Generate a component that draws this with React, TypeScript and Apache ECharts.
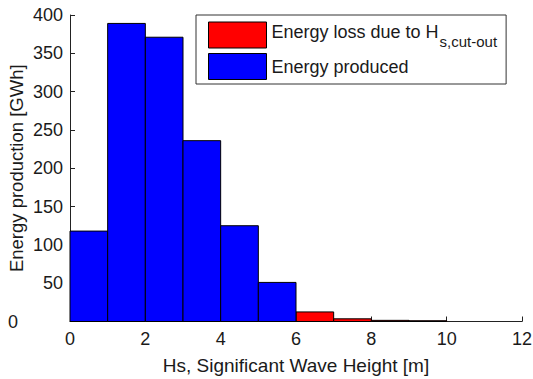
import React, { useEffect, useRef } from "react";
import * as echarts from "echarts";

// Histogram bins (lower edge of each 1 m wide Hs bin)
const producedBins = [0, 1, 2, 3, 4, 5];
const producedValues = [118, 389, 371, 236, 125, 51];
const lossBins = [6, 7, 8, 9];
const lossValues = [12.5, 3.5, 1.5, 1];
const binWidth = 1;

const xTicks = [0, 2, 4, 6, 8, 10, 12];
const yTicks = [0, 50, 100, 150, 200, 250, 300, 350, 400];

const FONT = "'Liberation Sans', Arial, sans-serif";
const TEXT = "#1a1a1a";

function histRender(color: string) {
  return (params: any, api: any) => {
    const x0 = api.value(0);
    const v = api.value(1);
    const p1 = api.coord([x0, v]);
    const p2 = api.coord([x0 + binWidth, 0]);
    return {
      type: "rect",
      shape: { x: p1[0], y: p1[1], width: p2[0] - p1[0], height: p2[1] - p1[1] },
      style: { fill: color, stroke: "#000", lineWidth: 1 },
    };
  };
}

export default function App() {
  const ref = useRef<HTMLDivElement>(null);

  useEffect(() => {
    if (!ref.current) return;
    const chart = echarts.init(ref.current, undefined, { renderer: "svg" });
    chart.setOption({
      animation: false,
      backgroundColor: "#fff",
      textStyle: { fontFamily: FONT },
      grid: {
        left: 70,
        right: 11,
        top: 15,
        bottom: 57.5,
        containLabel: false,
        outerBoundsMode: "none",
      },
      xAxis: {
        type: "value",
        min: xTicks[0],
        max: xTicks[xTicks.length - 1],
        interval: xTicks[1] - xTicks[0],
        name: "Hs, Significant Wave Height [m]",
        nameLocation: "middle",
        nameGap: 34,
        nameMoveOverlap: false,
        nameTextStyle: { fontSize: 19, color: TEXT, fontFamily: FONT },
        axisLine: { show: true, lineStyle: { color: "#222", width: 1 } },
        axisTick: { show: true, inside: true, length: 5, lineStyle: { color: "#222" } },
        axisLabel: { fontSize: 18, color: TEXT, margin: 8, fontFamily: FONT },
        splitLine: { show: false },
      },
      yAxis: {
        type: "value",
        min: yTicks[0],
        max: yTicks[yTicks.length - 1],
        interval: yTicks[1] - yTicks[0],
        name: "Energy production [GWh]",
        nameLocation: "middle",
        nameGap: 44,
        nameMoveOverlap: false,
        nameTextStyle: { fontSize: 18.5, color: TEXT, fontFamily: FONT, lineHeight: 20 },
        axisLine: { show: true, lineStyle: { color: "#222", width: 1 } },
        axisTick: { show: true, inside: true, length: 5, lineStyle: { color: "#222" } },
        axisLabel: {
          fontSize: 18,
          color: TEXT,
          margin: 7,
          fontFamily: FONT,
          formatter: (v: number) => (v === 0 ? "{z|0}" : String(v)),
          rich: { z: { fontSize: 18, color: TEXT, fontFamily: FONT, padding: [0, 45, 0, 0] } },
        },
        splitLine: { show: false },
      },
      legend: {
        orient: "vertical",
        left: 196,
        top: 15,
        data: ["Energy loss due to Hs,cut-out", "Energy produced"],
        icon: "rect",
        itemWidth: 58,
        itemHeight: 26,
        itemGap: 4,
        padding: [6, 9, 4, 12],
        borderColor: "#333",
        borderWidth: 1,
        backgroundColor: "#fff",
        itemStyle: { borderColor: "#000", borderWidth: 1 },
        formatter: (name: string) =>
          name.startsWith("Energy loss")
            ? "{m|Energy loss due to H}{s|s,cut-out}"
            : "{p|Energy produced}",
        textStyle: {
          fontSize: 18,
          color: TEXT,
          fontFamily: FONT,
          rich: {
            m: { fontSize: 18, color: TEXT, fontFamily: FONT, lineHeight: 20, padding: [0, 0, 7, 0] },
            s: {
              fontSize: 15,
              color: TEXT,
              fontFamily: FONT,
              lineHeight: 14,
              padding: [13, 0, 0, 1],
            },
            p: { fontSize: 18, color: TEXT, fontFamily: FONT, lineHeight: 22 },
          },
        },
      },
      series: [
        {
          name: "Energy loss due to Hs,cut-out",
          type: "custom",
          renderItem: histRender("#ff0000"),
          itemStyle: { color: "#ff0000" },
          encode: { x: 0, y: 1 },
          data: lossBins.map((b, i) => [b, lossValues[i]]),
          z: 3,
        },
        {
          name: "Energy produced",
          type: "custom",
          renderItem: histRender("#0000ff"),
          itemStyle: { color: "#0000ff" },
          encode: { x: 0, y: 1 },
          data: producedBins.map((b, i) => [b, producedValues[i]]),
          z: 3,
        },
      ],
    });
    return () => chart.dispose();
  }, []);

  return <div ref={ref} style={{ width: 533, height: 379, position: "absolute", left: 0, top: 0 }} />;
}
